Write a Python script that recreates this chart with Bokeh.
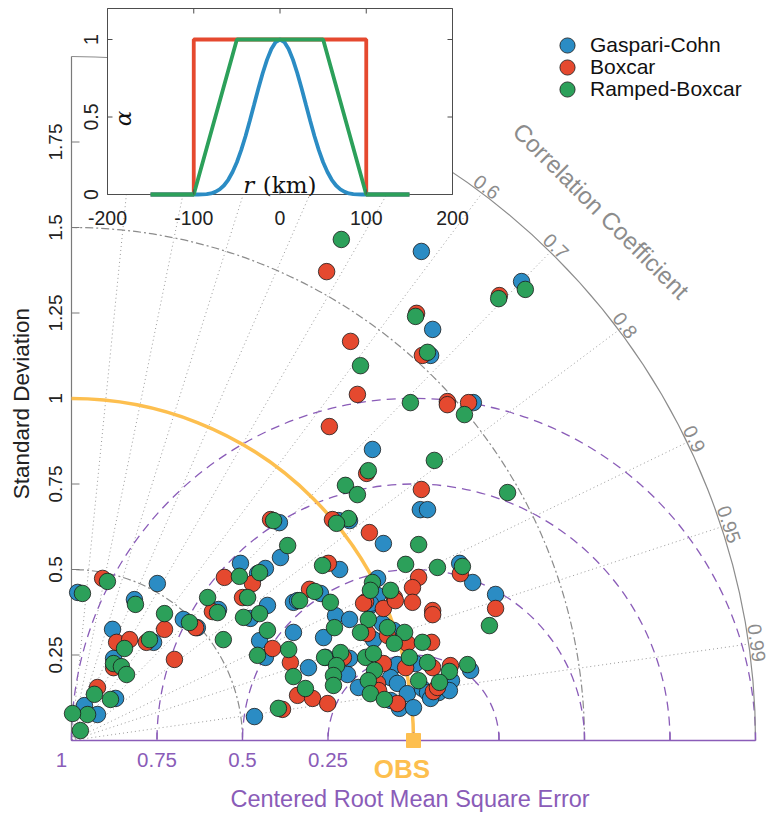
import numpy as np
from bokeh.plotting import figure
from bokeh.models import Range1d, Legend, LegendItem
from bokeh.core.properties import value
from bokeh.embed import file_html
from bokeh.resources import INLINE

# ---------------- data (Taylor diagram coordinates: x = sigma*R, y = sigma*sqrt(1-R^2)) ----------------
series_names = ["Gaspari-Cohn", "Boxcar", "Ramped-Boxcar"]

gc_x = [1.023, 1.316, 1.056, 1.050, 1.175, 0.880, 1.020, 1.041, 0.781, 0.813, 0.912, 0.608, 0.611, 1.135,
        1.173, 1.240, 0.784, 0.895, 0.895, 0.874, 0.728, 0.649, 0.494, 0.567, 0.544, 0.251, 0.018, 0.184,
        0.430, 0.523, 0.327, 0.368, 0.120, 0.240, 0.550, 0.123, 0.129, 0.038, 0.076, 0.535, 0.573, 0.661,
        0.772, 0.813, 0.874, 0.567, 0.649, 0.693, 0.737, 0.909, 0.942, 0.883, 0.743, 0.813, 0.807, 0.953,
        1.006, 1.111, 1.167, 0.933, 0.839, 0.953, 0.982, 1.026, 1.041, 1.073, 1.105, 1.050, 0.959, 1.000,
        0.933]
gc_y = [1.430, 1.342, 1.202, 1.126, 0.988, 0.851, 0.675, 0.675, 0.643, 0.643, 0.576, 0.637, 0.535, 0.518,
        0.462, 0.427, 0.500, 0.474, 0.424, 0.395, 0.430, 0.404, 0.518, 0.503, 0.488, 0.459, 0.433, 0.412,
        0.383, 0.357, 0.354, 0.330, 0.325, 0.287, 0.292, 0.240, 0.123, 0.102, 0.076, 0.070, 0.395, 0.409,
        0.365, 0.354, 0.401, 0.243, 0.316, 0.213, 0.301, 0.342, 0.322, 0.295, 0.243, 0.240, 0.193, 0.222,
        0.225, 0.175, 0.205, 0.184, 0.155, 0.167, 0.137, 0.152, 0.140, 0.140, 0.146, 0.123, 0.094, 0.096,
        0.117]

bc_x = [0.746, 1.251, 1.009, 0.816, 1.026, 0.836, 1.099, 1.099, 1.161, 0.754, 0.863, 1.023, 0.763, 0.582,
        0.871, 1.137, 1.240, 0.751, 1.015, 0.997, 0.944, 0.860, 0.912, 0.997, 1.056, 0.696, 0.091, 0.447,
        0.529, 0.412, 0.500, 0.363, 0.272, 0.132, 0.170, 0.219, 0.123, 0.301, 0.076, 0.854, 0.947, 1.056,
        0.588, 0.640, 0.865, 0.924, 0.982, 1.053, 0.795, 0.912, 0.977, 1.056, 1.108, 0.895, 0.898, 1.058,
        1.070, 0.661, 0.705, 0.749, 0.617, 0.953]
bc_y = [1.371, 1.301, 1.249, 1.167, 1.126, 1.012, 0.991, 0.982, 0.988, 0.918, 0.781, 0.734, 0.646, 0.646,
        0.608, 0.488, 0.386, 0.518, 0.477, 0.447, 0.418, 0.406, 0.386, 0.404, 0.380, 0.442, 0.474, 0.477,
        0.459, 0.377, 0.418, 0.330, 0.325, 0.287, 0.295, 0.287, 0.213, 0.237, 0.155, 0.401, 0.409, 0.368,
        0.269, 0.228, 0.313, 0.307, 0.284, 0.287, 0.243, 0.225, 0.213, 0.213, 0.219, 0.167, 0.146, 0.143,
        0.155, 0.132, 0.123, 0.108, 0.091, 0.108]

rb_x = [0.789, 1.327, 1.249, 1.006, 1.041, 0.845, 0.991, 1.149, 1.061, 0.868, 0.801, 0.836, 1.275, 0.810,
        0.775, 0.591, 0.632, 1.015, 0.977, 1.070, 1.143, 0.734, 0.880, 0.874, 0.933, 0.711, 0.757, 0.667,
        0.550, 0.491, 0.105, 0.032, 0.187, 0.272, 0.398, 0.427, 0.515, 0.503, 0.550, 0.345, 0.155, 0.228,
        0.444, 0.123, 0.146, 0.161, 0.544, 0.067, 0.114, 0.047, 0.003, 0.026, 0.868, 1.222, 0.573, 0.635,
        0.649, 0.769, 0.845, 0.924, 0.974, 0.944, 1.026, 0.740, 0.787, 0.775, 0.766, 0.766, 0.860, 0.883,
        0.988, 1.041, 1.105, 1.158, 0.886, 0.868, 0.874, 1.015, 1.076, 0.684, 0.605, 0.915]
rb_y = [1.465, 1.319, 1.292, 1.240, 1.135, 1.096, 0.988, 0.953, 0.819, 0.789, 0.746, 0.719, 0.725, 0.649,
        0.635, 0.643, 0.570, 0.573, 0.515, 0.506, 0.509, 0.512, 0.462, 0.439, 0.439, 0.436, 0.404, 0.409,
        0.491, 0.480, 0.465, 0.430, 0.398, 0.371, 0.418, 0.374, 0.418, 0.360, 0.371, 0.345, 0.269, 0.295,
        0.295, 0.225, 0.216, 0.193, 0.249, 0.135, 0.120, 0.076, 0.079, 0.029, 0.354, 0.336, 0.322, 0.266,
        0.187, 0.330, 0.316, 0.330, 0.316, 0.284, 0.287, 0.243, 0.257, 0.219, 0.190, 0.161, 0.243, 0.254,
        0.243, 0.228, 0.202, 0.222, 0.205, 0.175, 0.137, 0.175, 0.170, 0.152, 0.094, 0.120]

obs_std = 1.0
max_std = 2.0
std_ticks = [0.25, 0.5, 0.75, 1.0, 1.25, 1.5, 1.75]
std_tick_labels = ["0.25", "0.5", "0.75", "1", "1.25", "1.5", "1.75"]
std_circles = [0.5, 1.5]
corr_lines = [0.1, 0.2, 0.3, 0.4, 0.5, 0.6, 0.7, 0.8, 0.9, 0.95, 0.99]
corr_labels = [0.6, 0.7, 0.8, 0.9, 0.95, 0.99]
corr_label_text = ["0.6", "0.7", "0.8", "0.9", "0.95", "0.99"]
rms_circles = [0.25, 0.5, 0.75, 1.0]
rms_axis_ticks = [0.0, 0.25, 0.5, 0.75, 1.0, 1.25, 1.5, 1.75, 2.0]
rms_label_pos = [0.0, 0.25, 0.5, 0.75]
rms_label_text = ["1", "0.75", "0.5", "0.25"]

# inset: localisation functions alpha(r)
inset_r_box = [-150, -100, -100, 100, 100, 150]
inset_a_box = [0, 0, 1, 1, 0, 0]
inset_r_ramp = [-150, -100, -50, 50, 100, 150]
inset_a_ramp = [0, 0, 1, 1, 0, 0]
inset_r_gc = [-150, -100, -95, -90, -85, -80, -75, -70, -65, -60, -55, -50, -45, -40, -35, -30, -25, -20,
              -15, -10, -5, 0, 5, 10, 15, 20, 25, 30, 35, 40, 45, 50, 55, 60, 65, 70, 75, 80, 85, 90, 95,
              100, 150]
inset_a_gc = [0, 0, 0, 0.001, 0.002, 0.007, 0.017, 0.033, 0.058, 0.095, 0.145, 0.208, 0.286, 0.376, 0.476,
              0.580, 0.685, 0.784, 0.870, 0.939, 0.984, 1.0, 0.984, 0.939, 0.870, 0.784, 0.685, 0.580,
              0.476, 0.376, 0.286, 0.208, 0.145, 0.095, 0.058, 0.033, 0.017, 0.007, 0.002, 0.001, 0, 0, 0]
inset_xticks = [-200, -100, 0, 100, 200]
inset_xtick_labels = ["-200", "-100", "0", "100", "200"]
inset_yticks = [0, 0.5, 1]
inset_ytick_labels = ["0", "0.5", "1"]
inset_xlim = [-200, 200]
inset_ylim = [0, 1.2]

# ---------------- styles ----------------
FONT = "Liberation Sans"
SANS = value(FONT)
SERIF = value("DejaVu Serif")
PURPLE = "#8a5cb8"
ORANGE = "#fdbf4f"
GRAY = "#8c8c8c"
AXGRAY = "#7a7a7a"
COLORS = ["#2b8cc4", "#e5492f", "#2ca05a"]

W, H = 772, 813
S = 342.0  # px per std unit
OX, OY = 71, 73  # origin offset (px) from canvas left / bottom
TL = 8 / S

p = figure(width=W, height=H,
           x_range=Range1d(-OX / S, -OX / S + W / S),
           y_range=Range1d(-OY / S, -OY / S + H / S),
           output_backend="svg", toolbar_location=None, title=None,
           x_axis_location=None, y_axis_location=None, min_border=0,
           outline_line_color=None, background_fill_color="white", border_fill_color="white")
p.xgrid.visible = False
p.ygrid.visible = False
p.grid.grid_line_color = None

# inset ranges (km / alpha) mapped onto a sub-region of the frame
IX = 0.8625
IY = 155.0
ix0 = inset_xlim[0] - 107 / IX
iy0 = inset_ylim[0] - (H - 194) / IY
p.extra_x_ranges = {"inset": Range1d(ix0, ix0 + W / IX)}
p.extra_y_ranges = {"inset": Range1d(iy0, iy0 + H / IY)}

# ---- correlation rays ----
ang = np.arccos(np.array(corr_lines))
p.segment(x0=0, y0=0, x1=max_std * np.cos(ang), y1=max_std * np.sin(ang),
          line_color="#9a9a9a", line_dash="1 3", line_width=1)

# ---- std circles (dash-dot) ----
p.arc(x=0, y=0, radius=std_circles, start_angle=0, end_angle=np.pi / 2,
      line_color=GRAY, line_dash="8 3 2 3", line_width=1.2)

# ---- RMS circles ----
p.arc(x=obs_std, y=0, radius=rms_circles, start_angle=0, end_angle=np.pi,
      line_color=PURPLE, line_dash="9 6", line_width=1.3)

# ---- outer arc and std axis ----
p.arc(x=0, y=0, radius=max_std, start_angle=0, end_angle=np.pi / 2, line_color=GRAY, line_width=1.2)
p.segment(x0=0, y0=0, x1=0, y1=max_std, line_color=AXGRAY, line_width=1.2)
p.segment(x0=0, y0=std_ticks, x1=TL, y1=std_ticks, line_color=AXGRAY, line_width=1.2)
p.text(x=-10 / S, y=std_ticks, text=std_tick_labels, angle=np.pi / 2, text_align="center",
       text_baseline="bottom", text_font=SANS, text_font_size="19px", text_color="#222222")
p.text(x=[-38 / S], y=[0.985], text=["Standard Deviation"], angle=np.pi / 2, text_align="center",
       text_baseline="bottom", text_font=SANS, text_font_size="22.5px", text_color="#222222")

# ---- OBS std arc ----
p.arc(x=0, y=0, radius=obs_std, start_angle=0, end_angle=np.pi / 2, line_color=ORANGE, line_width=3.5)

# ---- RMS axis (bottom) ----
p.segment(x0=0, y0=0, x1=max_std, y1=0, line_color=PURPLE, line_width=1.6)
p.segment(x0=rms_axis_ticks, y0=0, x1=rms_axis_ticks, y1=TL, line_color=PURPLE, line_width=1.3)
p.text(x=rms_label_pos, y=-12 / S, text=rms_label_text, x_offset=[-10, 0, 0, 0], text_align="center",
       text_baseline="top", text_font=SANS, text_font_size="20.5px", text_color=PURPLE)
p.text(x=[obs_std - 11.5 / S], y=[-13 / S], text=["OBS"], text_align="center", text_baseline="top",
       text_font=SANS, text_font_size="26px", text_font_style="bold", text_color=ORANGE)
p.text(x=[obs_std - 0.01], y=[-58 / S], text=["Centered Root Mean Square Error"], text_align="center",
       text_baseline="middle", text_font=SANS, text_font_size="23.5px", text_color=PURPLE)

# ---- correlation labels ----
ca = np.arccos(np.array(corr_labels))
p.text(x=2.024 * np.cos(ca), y=2.024 * np.sin(ca), text=corr_label_text, angle=ca - np.pi / 2,
       text_align="center", text_baseline="middle", text_font=SANS, text_font_size="19.5px",
       text_color=GRAY)
p.text(x=[2.19 * np.cos(np.pi / 4)], y=[2.19 * np.sin(np.pi / 4)], text=["Correlation Coefficient"],
       angle=-np.pi / 4, text_align="center", text_baseline="middle", text_font=SANS,
       text_font_size="24px", text_color=GRAY)

# ---- data points ----
rends = []
for xs, ys, col in [(gc_x, gc_y, COLORS[0]), (bc_x, bc_y, COLORS[1]), (rb_x, rb_y, COLORS[2])]:
    rends.append(p.scatter(x=xs, y=ys, marker="circle", size=16.5, fill_color=col,
                           line_color="#1a1a1a", line_width=0.8))

# OBS marker
p.scatter(x=[obs_std], y=[0], marker="square", size=14, fill_color=ORANGE, line_color=ORANGE)

# legend: one single-row legend per series so rows can sit 22 px apart with 15 px markers
for i, (n, r) in enumerate(zip(series_names, rends)):
    lg = Legend(items=[LegendItem(label=n, renderers=[r])],
                location=(548, H - (26 + 22 * i) - 38), orientation="vertical",
                glyph_width=38, glyph_height=38, label_height=38, padding=0, margin=0,
                label_standoff=4, label_text_font=FONT, label_text_font_size="21px",
                label_text_color="#111111", border_line_color=None, background_fill_alpha=0)
    p.add_layout(lg)

# ---------------- inset ----------------
kw = dict(x_range_name="inset", y_range_name="inset")
p.quad(left=[inset_xlim[0]], right=[inset_xlim[1]], bottom=[inset_ylim[0]], top=[inset_ylim[1]],
       fill_color="white", line_color="#4d4d4d", line_width=1, **kw)
p.line(inset_r_box, inset_a_box, line_color=COLORS[1], line_width=3.8, **kw)
p.line(inset_r_gc, inset_a_gc, line_color=COLORS[0], line_width=3.8, **kw)
p.line(inset_r_ramp, inset_a_ramp, line_color=COLORS[2], line_width=3.8, **kw)
tx = 5 / IX
ty = 5 / IY
p.segment(x0=inset_xticks, y0=inset_ylim[0], x1=inset_xticks, y1=inset_ylim[0] + ty,
          line_color="#4d4d4d", line_width=1, **kw)
p.segment(x0=inset_xticks, y0=inset_ylim[1], x1=inset_xticks, y1=inset_ylim[1] - ty,
          line_color="#4d4d4d", line_width=1, **kw)
p.segment(x0=inset_xlim[0], y0=inset_yticks, x1=inset_xlim[0] + tx, y1=inset_yticks,
          line_color="#4d4d4d", line_width=1, **kw)
p.segment(x0=inset_xlim[1], y0=inset_yticks, x1=inset_xlim[1] - tx, y1=inset_yticks,
          line_color="#4d4d4d", line_width=1, **kw)
p.text(x=inset_xticks, y=-16 / IY, text=inset_xtick_labels, text_align="center", text_baseline="top",
       text_font=SANS, text_font_size="19.5px", text_color="#222222", **kw)
p.text(x=inset_xlim[0] - 10 / IX, y=inset_yticks, text=inset_ytick_labels, angle=np.pi / 2,
       text_align="center", text_baseline="bottom", text_font=SANS, text_font_size="19.5px",
       text_color="#222222", **kw)
p.text(x=[-182], y=[0.49], text=["α"], angle=np.pi / 2, text_align="center", text_baseline="middle",
       text_font=SERIF, text_font_style="italic", text_font_size="23px", text_color="#111111", **kw)
p.text(x=[-30], y=[0.06], text=["r"], text_align="right", text_baseline="alphabetic",
       text_font=SERIF, text_font_style="italic", text_font_size="23px", text_color="#111111", **kw)
p.text(x=[-20], y=[0.06], text=["(km)"], text_align="left", text_baseline="alphabetic",
       text_font=SERIF, text_font_size="23px", text_color="#111111", **kw)

open("out.html", "w").write(file_html(p, INLINE))
